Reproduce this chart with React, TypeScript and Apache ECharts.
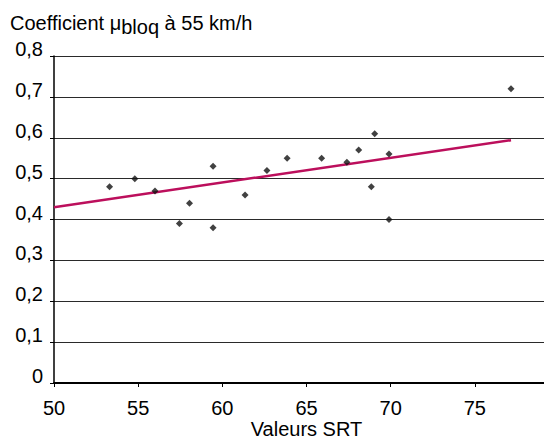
import React, { useEffect, useRef } from "react";
import * as echarts from "echarts";

const srtValues = [53.3, 54.8, 56.0, 57.45, 58.05, 59.45, 59.45, 61.35, 62.65, 63.85, 65.9, 67.4, 68.1, 69.05, 68.85, 69.9, 69.9, 77.15];
const muValues = [0.48, 0.5, 0.47, 0.39, 0.44, 0.53, 0.38, 0.46, 0.52, 0.55, 0.55, 0.54, 0.57, 0.61, 0.48, 0.56, 0.4, 0.72];
const trendX = [50, 77.15];
const trendY = [0.43, 0.594];

const FONT = "'Liberation Sans', Arial, sans-serif";

export default function App() {
  const ref = useRef<HTMLDivElement>(null);
  useEffect(() => {
    if (!ref.current) return;
    const chart = echarts.init(ref.current, undefined, { renderer: "svg" });
    chart.setOption({
      animation: false,
      backgroundColor: "#ffffff",
      textStyle: { fontFamily: FONT },
      title: {
        text: "Coefficient μ{sub|bloq} à 55 km/h",
        left: 5,
        top: 4,
        textStyle: {
          fontFamily: FONT,
          fontSize: 20,
          fontWeight: "normal",
          color: "#000",
          lineHeight: 28,
          rich: {
            sub: { fontFamily: FONT, fontSize: 20, color: "#000", verticalAlign: "bottom", lineHeight: 18 },
          },
        },
      },
      grid: { left: 54, top: 56, right: -15, bottom: 59, outerBoundsMode: "none", containLabel: false },
      xAxis: {
        type: "value",
        min: 50,
        max: 80,
        interval: 5,
        name: "Valeurs SRT",
        nameLocation: "middle",
        nameGap: 46,
        nameMoveOverlap: false,
        nameTextStyle: { fontFamily: FONT, fontSize: 20, color: "#000", lineHeight: 20, verticalAlign: "middle" },
        axisLine: { show: true, onZero: false, lineStyle: { color: "#000", width: 2 } },
        axisTick: { show: true, length: 4, lineStyle: { color: "#000", width: 1 } },
        axisLabel: {
          fontFamily: FONT,
          fontSize: 20,
          lineHeight: 20,
          color: "#000",
          margin: 15,
          showMaxLabel: false,
        },
        splitLine: { show: false },
      },
      yAxis: {
        type: "value",
        min: 0,
        max: 0.8,
        interval: 0.1,
        axisLine: { show: true, lineStyle: { color: "#000", width: 1.5 } },
        axisTick: { show: true, length: 4, lineStyle: { color: "#000", width: 1 } },
        axisLabel: {
          fontFamily: FONT,
          fontSize: 20,
          color: "#000",
          margin: 11,
          verticalAlign: "bottom",
          lineHeight: 14,
          formatter: (v: number) => (v === 0 ? "0" : v.toFixed(1).replace(".", ",")),
        },
        splitLine: { show: true, lineStyle: { color: "#2a2a2a", width: 1.2 } },
      },
      series: [
        {
          type: "line",
          data: trendX.map((x, i) => [x, trendY[i]]),
          showSymbol: false,
          symbol: "none",
          lineStyle: { color: "#bc0f5c", width: 2.5 },
          z: 2,
        },
        {
          type: "scatter",
          data: srtValues.map((x, i) => [x, muValues[i]]),
          symbol: "diamond",
          symbolSize: 7,
          itemStyle: { color: "#111" },
          z: 3,
        },
      ],
    });
    return () => chart.dispose();
  }, []);
  return <div ref={ref} style={{ position: "fixed", left: 0, top: 0, width: 544, height: 442 }} />;
}
